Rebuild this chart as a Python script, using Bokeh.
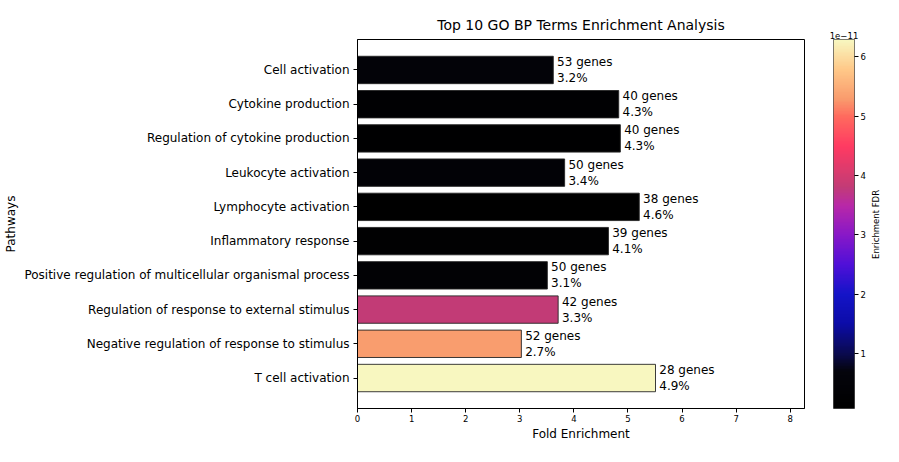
import numpy as np
from bokeh.plotting import figure
from bokeh.layouts import row
from bokeh.models import (ColumnDataSource, LinearColorMapper, FixedTicker,
                          Range1d, CustomJSTickFormatter)
from bokeh.transform import transform
from bokeh.core.properties import value
from bokeh.embed import file_html
from bokeh.resources import INLINE

# ---------------- data ----------------
pathways = [
    "T cell activation",
    "Negative regulation of response to stimulus",
    "Regulation of response to external stimulus",
    "Positive regulation of multicellular organismal process",
    "Inflammatory response",
    "Lymphocyte activation",
    "Leukocyte activation",
    "Regulation of cytokine production",
    "Cytokine production",
    "Cell activation",
]
fold_enrichment = [5.51, 3.03, 3.71, 3.51, 4.64, 5.21, 3.83, 4.86, 4.83, 3.62]
gene_counts = [28, 52, 42, 50, 39, 38, 50, 40, 40, 53]
gene_pct = [4.9, 2.7, 3.3, 3.1, 4.1, 4.6, 3.4, 4.3, 4.3, 3.2]
fdr = [6.29e-11, 5.3e-11, 3.8e-11, 0.35e-11, 0.22e-11, 0.08e-11,
       0.41e-11, 0.15e-11, 0.27e-11, 0.50e-11]
x_ticks = [0, 1, 2, 3, 4, 5, 6, 7, 8]
cbar_ticks = [1e-11, 2e-11, 3e-11, 4e-11, 5e-11, 6e-11]
cbar_label = "Enrichment FDR"

# ---------------- palette (style) ----------------
stops = [
    (0.00, "#000000"), (0.10, "#04040c"), (0.148, "#0a0a50"), (0.229, "#0c0ca8"),
    (0.309, "#1414c8"), (0.39, "#5010d8"), (0.47, "#8818c8"), (0.55, "#b828a8"),
    (0.60, "#c23b76"), (0.711, "#ff3a62"), (0.792, "#ff6a5e"), (0.84, "#f99b6d"),
    (0.92, "#ffc888"), (1.00, "#f8f7c0"),
]
def _rgb(h):
    return [int(h[i:i + 2], 16) for i in (1, 3, 5)]
sf = np.array([s[0] for s in stops])
sc = np.array([_rgb(s[1]) for s in stops], dtype=float)
palette = []
for v in np.linspace(0, 1, 256):
    r, g, b = (np.interp(v, sf, sc[:, k]) for k in range(3))
    palette.append("#%02x%02x%02x" % (int(round(r)), int(round(g)), int(round(b))))

FONT = "DejaVu Sans"
H = 446
TOP = 36
BOTTOM = 38
CB_TOP = TOP + 3

ypos = list(range(len(pathways)))
labels = [f"{c} genes\n{p}%" for c, p in zip(gene_counts, gene_pct)]
src = ColumnDataSource(dict(y=ypos, fe=fold_enrichment, fdr=fdr, lab=labels,
                            tx=[v + 0.07 for v in fold_enrichment]))

low, high = min(fdr), max(fdr)
mapper = LinearColorMapper(palette=palette, low=low, high=high)

xmax = max(fold_enrichment) * 1.5
p = figure(width=808, height=H, output_backend="svg", toolbar_location=None,
           x_range=Range1d(0, xmax), y_range=Range1d(-0.89, 9.89),
           min_border_left=357, min_border_right=4, min_border_top=TOP,
           min_border_bottom=BOTTOM)

p.title.text = "Top 10 GO BP Terms Enrichment Analysis"
p.title.align = "center"
p.title.text_font = FONT
p.title.text_font_size = "14px"
p.title.text_font_style = "normal"
p.title.text_color = "black"
p.title.standoff = 14

p.hbar(y="y", right="fe", left=0, height=0.8, source=src,
       fill_color=transform("fdr", mapper), line_color="#262626", line_width=0.9)

p.text(x="tx", y="y", text="lab", source=src, text_font=value(FONT),
       text_font_size="12px", text_baseline="middle", text_align="left",
       text_line_height=1.15, text_color="black")

p.xgrid.visible = False
p.ygrid.visible = False
p.outline_line_color = "black"
p.outline_line_width = 1

for ax in (p.xaxis[0], p.yaxis[0]):
    ax.axis_line_color = "black"
    ax.major_tick_line_color = "black"
    ax.major_tick_in = 0
    ax.major_tick_out = 4
    ax.minor_tick_line_color = None
    ax.axis_label_text_font = FONT
    ax.axis_label_text_font_size = "12px"
    ax.axis_label_text_font_style = "normal"
    ax.major_label_text_font = FONT
    ax.major_label_text_color = "black"
    ax.axis_label_text_color = "black"

p.xaxis.ticker = FixedTicker(ticks=x_ticks)
p.xaxis.major_label_text_font_size = "8.5px"
p.xaxis.axis_label = "Fold Enrichment"
p.xaxis.major_label_standoff = 2
p.xaxis.axis_label_standoff = 2

p.yaxis.ticker = FixedTicker(ticks=ypos)
p.yaxis.major_label_overrides = {i: n for i, n in zip(ypos, pathways)}
p.yaxis.major_label_text_font_size = "12px"
p.yaxis.axis_label = "Pathways"
p.yaxis.major_label_standoff = 4
p.yaxis.axis_label_standoff = 3

# ---------------- colour bar as its own small figure ----------------
c = figure(frame_width=21, height=H, output_backend="svg", toolbar_location=None,
           x_range=Range1d(0, 1), y_range=Range1d(low, high),
           x_axis_type=None, y_axis_location="right",
           min_border_left=25, min_border_right=0, min_border_top=CB_TOP,
           min_border_bottom=BOTTOM)
grad = np.linspace(low, high, 256).reshape(256, 1)
c.image(image=[grad], x=0, y=low, dw=1, dh=high - low, color_mapper=mapper)
c.xgrid.visible = False
c.ygrid.visible = False
c.outline_line_color = "#262626"
c.outline_line_width = 0.8
c.title.text = "1e\u221211"
c.title.align = "center"
c.title.text_font = FONT
c.title.text_font_size = "8.5px"
c.title.text_font_style = "normal"
c.title.text_color = "black"
c.title.standoff = 2
cax = c.yaxis[0]
cax.ticker = FixedTicker(ticks=cbar_ticks)
cax.formatter = CustomJSTickFormatter(code="return (tick/1e-11).toFixed(0);")
cax.axis_line_color = None
cax.major_tick_line_color = "black"
cax.major_tick_in = 0
cax.major_tick_out = 4
cax.minor_tick_line_color = None
cax.major_label_text_font = FONT
cax.major_label_text_font_size = "8.5px"
cax.major_label_text_color = "black"
cax.major_label_standoff = 2

# ---------------- colour bar label (reads bottom to top) ----------------
mid_from_top = (CB_TOP + H - BOTTOM) / 2
lab = figure(width=14, height=H, output_backend="svg", toolbar_location=None,
             x_range=Range1d(0, 1), y_range=Range1d(0, H),
             x_axis_type=None, y_axis_type=None, min_border=0,
             outline_line_color=None)
lab.xgrid.visible = False
lab.ygrid.visible = False
lab.text(x=[0.5], y=[H - mid_from_top], text=[cbar_label], angle=np.pi / 2,
         text_font=value(FONT), text_font_size="8.5px", text_align="center",
         text_baseline="middle", text_color="black")

open("out.html", "w").write(file_html(row(p, c, lab), INLINE))
